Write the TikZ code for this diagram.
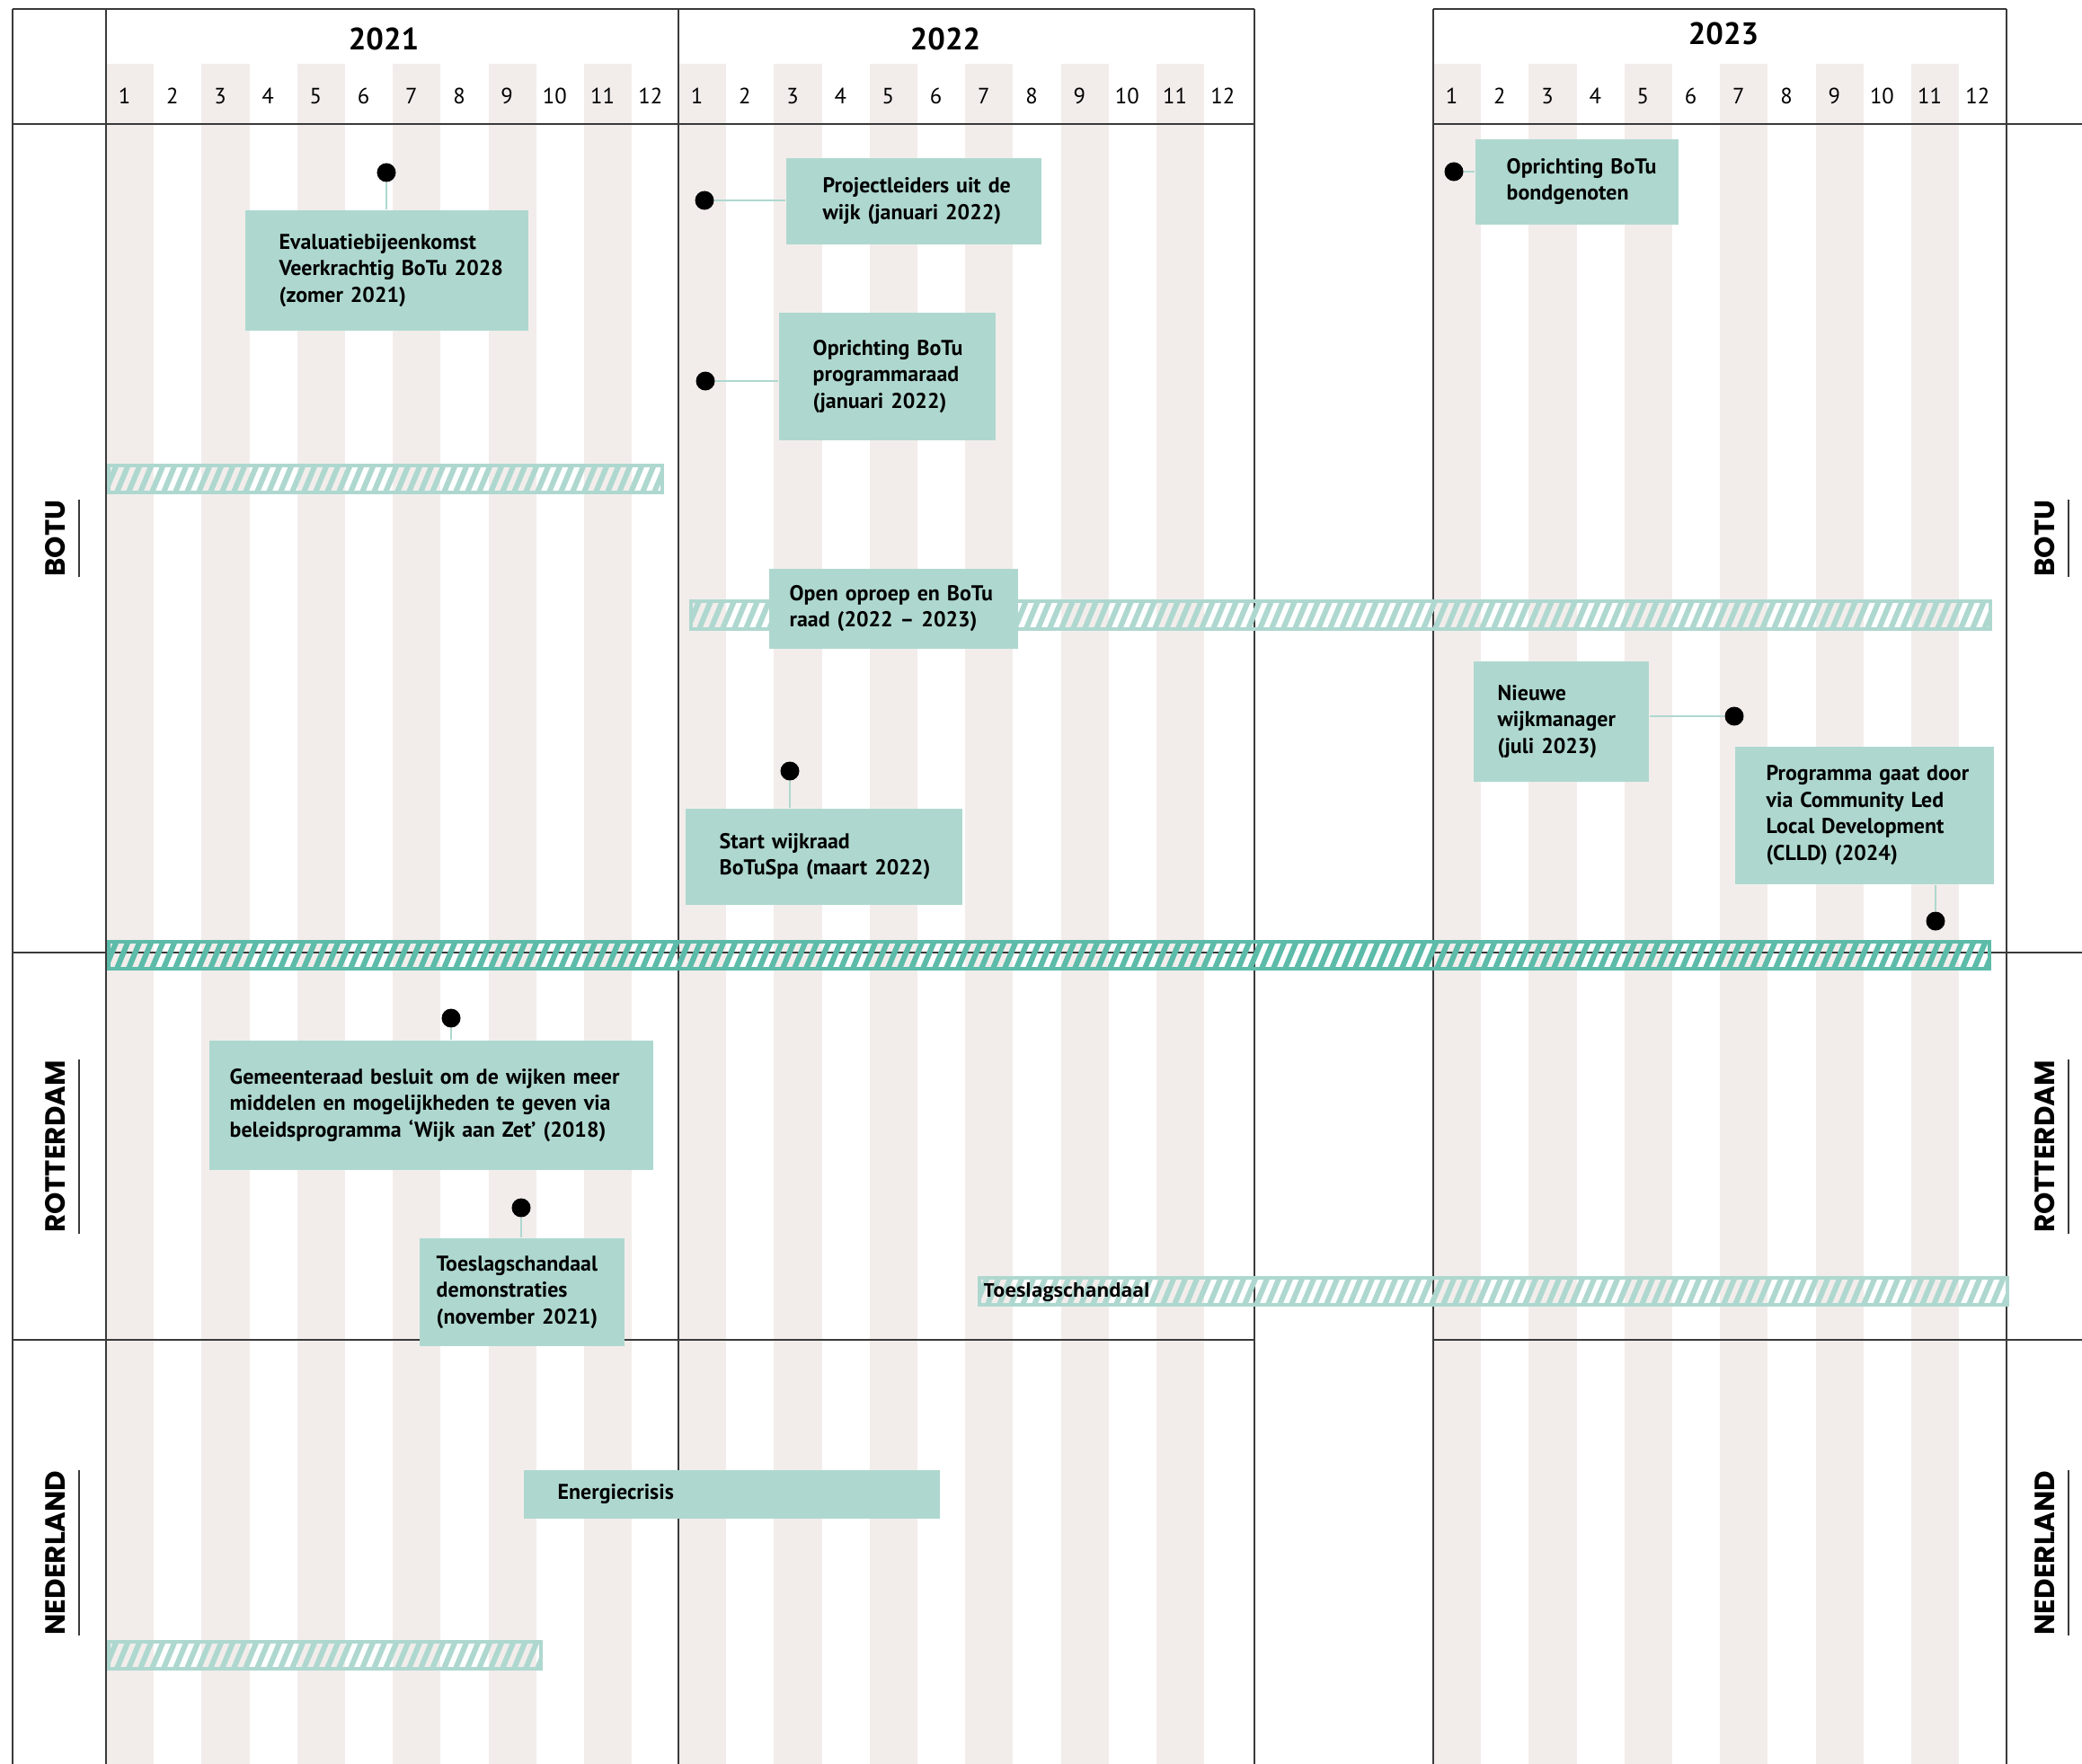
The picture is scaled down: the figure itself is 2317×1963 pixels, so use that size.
\documentclass[tikz,border=0pt]{standalone}
\usepackage{fontspec}
\setmainfont{PT Sans}
\newfontfamily\labelfont{Poppins}
\newfontfamily\barfont{Open Sans}
\definecolor{boxteal}{HTML}{AED8CF}
\definecolor{darkteal}{HTML}{5CBBA9}
\definecolor{stripegray}{HTML}{F2EDEB}
\definecolor{linegray}{HTML}{3A3A3A}
\newcommand{\evlines}[2]{\hspace*{#1}\begin{tabular}{@{}l@{}}#2\end{tabular}}

\begin{document}
\begin{tikzpicture}[x=0.01cm, y=-0.01cm,
  frame/.style={draw=linegray, line width=0.6pt},
  ev/.style={fill=boxteal, anchor=north west, inner sep=0pt, align=left,
    font=\fontsize{6.8}{8.4}\selectfont\bfseries},
  evdot/.style={circle, fill=black, inner sep=0pt, minimum size=0.21cm},
  conn/.style={draw=boxteal, line width=0.7pt},
  sect/.style={font=\labelfont\fontsize{8.8}{10}\selectfont\bfseries, rotate=90,
    anchor=south, inner xsep=0pt, inner ysep=0.15cm},
  monthlbl/.style={font=\fontsize{7}{8}\selectfont, inner sep=0pt},
  yearlbl/.style={font=\fontsize{9.8}{11}\selectfont\bfseries, inner sep=0pt},
  barlbl/.style={font=\barfont\fontsize{6}{7}\selectfont\bfseries, inner sep=0pt, anchor=west}]
  \useasboundingbox (0,0) rectangle (2317,1963);

  % month stripes
  \foreach \xo in {118,755,1595}
    \foreach \m in {0,2,...,10}
      \fill[stripegray] (\xo+\m*53.2,71) rectangle ++(53.2,1892);

  % years and months
  \foreach \xo/\yr/\yx/\yy in {118/2021/427/43, 755/2022/1052/43, 1595/2023/1918/37} {
    \node[yearlbl] (y\yr) at (\yx,\yy) {\yr};
    \foreach \m in {1,...,12}
      \node[monthlbl] (m\yr-\m) at (\xo+\m*53.2-32.6,107) {\m};
  }

  % frame
  \draw[frame] (14,10) -- (1396,10);
  \draw[frame] (1595,10) -- (2233,10);
  \foreach \x in {14,118,755,1396,1595,2233}
    \draw[frame] (\x,10) -- (\x,1963);
  \foreach \y in {138,1060,1491} {
    \draw[frame] (14,\y) -- (1396,\y);
    \draw[frame] (1595,\y) -- (2317,\y);
  }

  % section labels
  \foreach \nm/\txt/\yc in {botu/BOTU/599, rdam/ROTTERDAM/1276, nl/NEDERLAND/1728} {
    \node[sect] (l\nm) at (88,\yc) {\txt};
    \draw[frame] (l\nm.south west) -- (l\nm.south east);
    \node[sect] (r\nm) at (2302,\yc) {\txt};
    \draw[frame] (r\nm.south west) -- (r\nm.south east);
  }

  % hatched bars
  \foreach \xa/\ya/\xb/\yb/\col in {121/518/737/548/boxteal, 769/669/2215/700/boxteal,
      121/1048/2214/1078/darkteal, 1090/1422/2234/1452/boxteal, 121/1827/602/1857/boxteal} {
    \begin{scope}
      \clip (\xa,\ya) rectangle (\xb,\yb);
      \foreach \h in {-30,-17,...,2200}
        \draw[draw=\col, line width=0.06cm] (\xa+\h,\yb) -- ++(15,-36);
    \end{scope}
    \draw[draw=\col, line width=1.4pt] (\xa,\ya) rectangle (\xb,\yb);
  }
  \node[barlbl] (toeslagbar) at (1094,1438) {Toeslagschandaal};

  % events
  \node[ev, text width=3.15cm, minimum height=1.34cm] (evalbox) at (272,233)
    {\evlines{0.38cm}{Evaluatiebijeenkomst\\Veerkrachtig BoTu 2028\\(zomer 2021)}};
  \node[ev, text width=2.84cm, minimum height=0.96cm] (projbox) at (874,175)
    {\evlines{0.41cm}{Projectleiders uit de\\wijk (januari 2022)}};
  \node[ev, text width=2.41cm, minimum height=1.42cm] (raadbox) at (866,347)
    {\evlines{0.38cm}{Oprichting BoTu\\programmaraad\\(januari 2022)}};
  \node[ev, text width=2.26cm, minimum height=0.95cm] (bondbox) at (1641,154)
    {\evlines{0.35cm}{Oprichting BoTu\\bondgenoten}};
  \node[ev, text width=2.77cm, minimum height=0.89cm] (oproepbox) at (855,632)
    {\evlines{0.23cm}{Open oproep en BoTu\\raad (2022 -- 2023)}};
  \node[ev, text width=3.08cm, minimum height=1.07cm] (wijkraadbox) at (762,899)
    {\evlines{0.38cm}{Start wijkraad\\BoTuSpa (maart 2022)}};
  \node[ev, text width=1.95cm, minimum height=1.34cm] (managerbox) at (1639,735)
    {\evlines{0.27cm}{Nieuwe\\wijkmanager\\(juli 2023)}};
  \node[ev, text width=2.88cm, minimum height=1.53cm] (clldbox) at (1930,830)
    {\evlines{0.35cm}{Programma gaat door\\via Community Led\\Local Development\\(CLLD) (2024)}};
  \node[ev, text width=4.94cm, minimum height=1.44cm] (besluitbox) at (232,1157)
    {\evlines{0.23cm}{Gemeenteraad besluit om de wijken meer\\middelen en mogelijkheden te geven via\\beleidsprogramma ‘Wijk aan Zet’ (2018)}};
  \node[ev, text width=2.28cm, minimum height=1.20cm] (demobox) at (466,1377)
    {\evlines{0.19cm}{Toeslagschandaal\\demonstraties\\(november 2021)}};
  \node[ev, text width=4.63cm, minimum height=0.54cm] (energiebox) at (582,1635)
    {\evlines{0.38cm}{Energiecrisis}};

  % dots
  \node[evdot] (evaldot) at (430,192) {};
  \node[evdot] (projdot) at (784,223) {};
  \node[evdot] (raaddot) at (785,424) {};
  \node[evdot] (bonddot) at (1618,191) {};
  \node[evdot] (wijkraaddot) at (879,858) {};
  \node[evdot] (managerdot) at (1930,797) {};
  \node[evdot] (clldot) at (2154,1025) {};
  \node[evdot] (besluitdot) at (502,1133) {};
  \node[evdot] (demodot) at (580,1344) {};

  % connectors
  \draw[conn] (evaldot) -- (evaldot |- evalbox.north);
  \draw[conn] (projdot) -- (projdot -| projbox.west);
  \draw[conn] (raaddot) -- (raaddot -| raadbox.west);
  \draw[conn] (bonddot) -- (bonddot -| bondbox.west);
  \draw[conn] (wijkraaddot) -- (wijkraaddot |- wijkraadbox.north);
  \draw[conn] (managerdot) -- (managerdot -| managerbox.east);
  \draw[conn] (clldot) -- (clldot |- clldbox.south);
  \draw[conn] (besluitdot) -- (besluitdot |- besluitbox.north);
  \draw[conn] (demodot) -- (demodot |- demobox.north);
\end{tikzpicture}
\end{document}
